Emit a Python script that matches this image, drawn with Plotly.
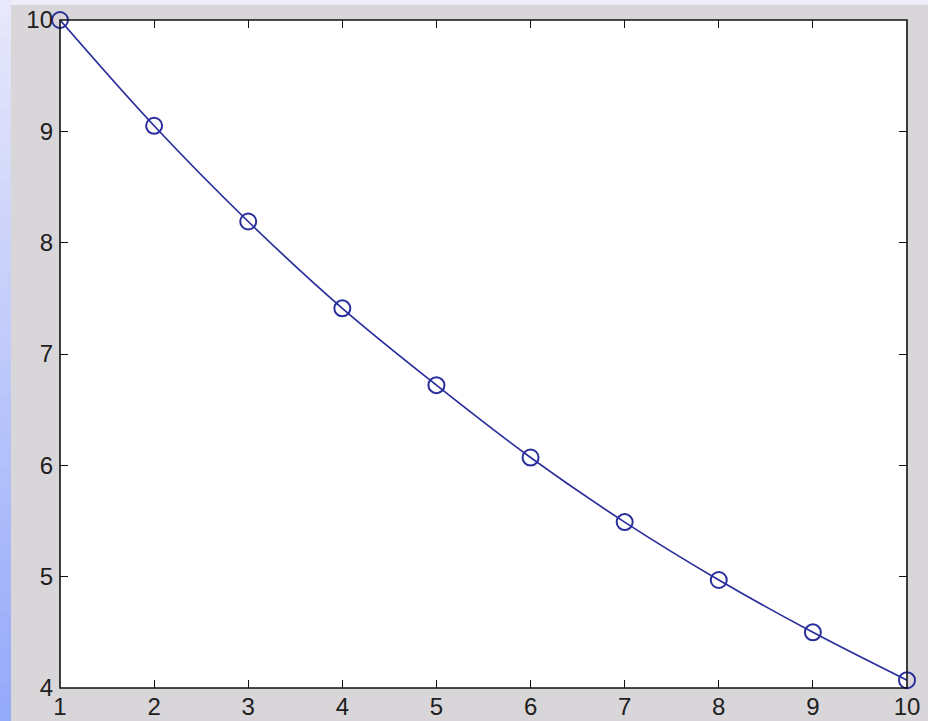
import plotly.graph_objects as go

x_vals = [1, 2, 3, 4, 5, 6, 7, 8, 9, 10]
y_vals = [10.0, 9.05, 8.19, 7.41, 6.72, 6.07, 5.49, 4.97, 4.50, 4.07]
x_ticks = [1, 2, 3, 4, 5, 6, 7, 8, 9, 10]
y_ticks = [4, 5, 6, 7, 8, 9, 10]

W, H = 928, 721
L, R, T, B = 60, 21, 20, 33
pw, ph = W - L - R, H - T - B

def px_to_paper_x(px):
    return (px - L) / pw

def py_to_paper_y(py):
    return (H - B - py) / ph

fig = go.Figure()
fig.add_trace(go.Scatter(
    x=x_vals, y=y_vals, mode="lines+markers",
    line=dict(color="#2a2e9c", width=1.7, shape="spline"),
    marker=dict(symbol="circle-open", size=16, color="#2a2e9c", line=dict(width=2)),
    cliponaxis=False, showlegend=False,
))

shapes = []
# top light strip
shapes.append(dict(type="rect", xref="paper", yref="paper", layer="below",
                   x0=px_to_paper_x(0), x1=px_to_paper_x(W), y0=py_to_paper_y(5), y1=py_to_paper_y(0),
                   fillcolor="#eeeef8", line=dict(width=0)))
# left blue gradient strip
n = 40
top_c = (232, 232, 250)
bot_c = (150, 170, 250)
for i in range(n):
    t = i / (n - 1)
    c = tuple(int(top_c[k] + (bot_c[k] - top_c[k]) * t) for k in range(3))
    y0p = H * i / n
    y1p = H * (i + 1) / n + 1
    shapes.append(dict(type="rect", xref="paper", yref="paper", layer="below",
                       x0=px_to_paper_x(0), x1=px_to_paper_x(11),
                       y0=py_to_paper_y(y1p), y1=py_to_paper_y(y0p),
                       fillcolor="rgb(%d,%d,%d)" % c, line=dict(width=0)))
# axes box
shapes.append(dict(type="rect", xref="paper", yref="paper", layer="above",
                   x0=0, x1=1, y0=0, y1=1, line=dict(color="#111111", width=1.6)))

fig.update_layout(
    width=W, height=H,
    margin=dict(l=L, r=R, t=T, b=B, autoexpand=False),
    paper_bgcolor="#d9d6da",
    plot_bgcolor="#ffffff",
    shapes=shapes,
    font=dict(family="Liberation Sans, Arial, sans-serif", size=24, color="#1a1a1a"),
)
tick_font = dict(family="Liberation Sans, Arial, sans-serif", size=24, color="#202020")
axis_common = dict(showgrid=False, zeroline=False, showline=False, automargin=False,
                   ticks="inside", ticklen=8, tickwidth=1.4, tickcolor="#111111",
                   mirror="allticks", tickfont=tick_font)
fig.update_xaxes(range=[1, 10], tickvals=x_ticks, ticktext=[str(v) for v in x_ticks],
                 ticklabelstandoff=2, **axis_common)
fig.update_yaxes(range=[4, 10], tickvals=y_ticks, ticktext=[str(v) for v in y_ticks],
                 ticklabelstandoff=6, **axis_common)

fig.write_html("out.html", config={"displayModeBar": False},
               post_script="document.body.style.margin='0';document.body.style.padding='0';document.body.style.overflow='hidden';")
